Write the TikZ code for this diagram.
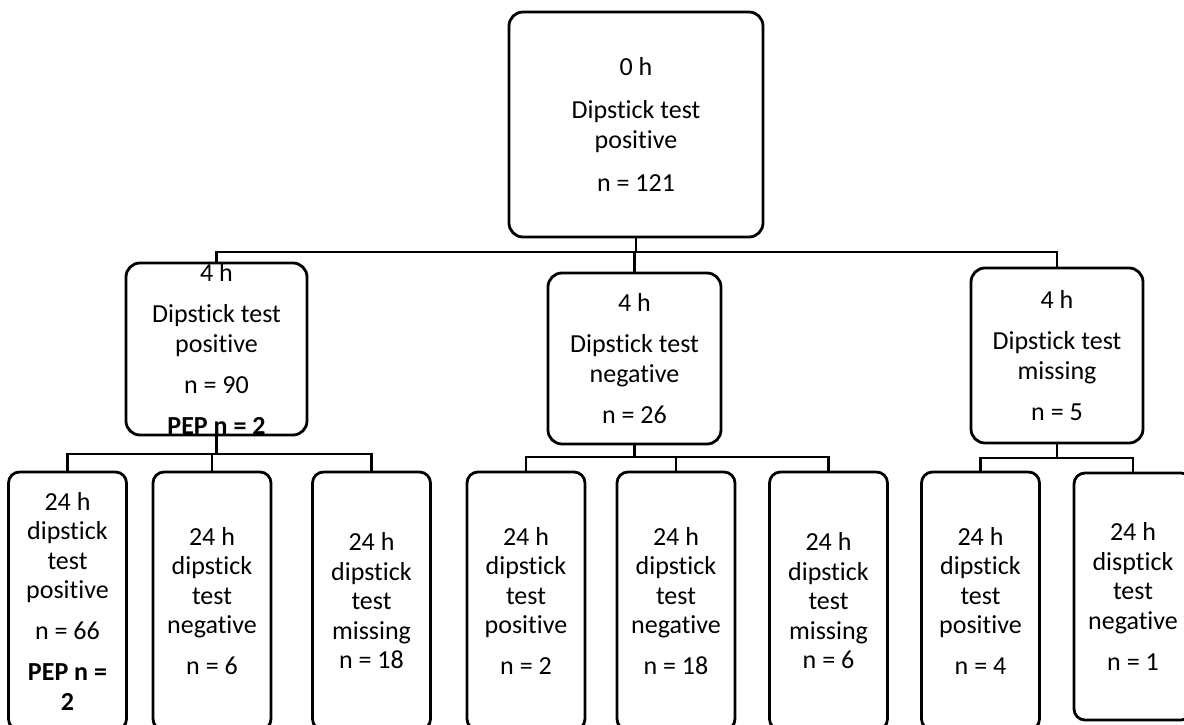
\documentclass[tikz,border=0pt]{standalone}
\usepackage{fontspec}
\setmainfont{Carlito}[Ligatures={NoCommon,NoRare,NoContextual}]

\begin{document}
\begin{tikzpicture}[x=1pt,y=-1pt]
		\tikzset{
			boxnode/.style={draw=black,line width=2.8pt,rounded corners=14pt,inner sep=0pt,align=center,font=\fontsize{26}{29.5}\selectfont},
		}
		\tikzset{
			smallnode/.style={boxnode,rounded corners=11pt,minimum width=118pt,minimum height=258pt},
		}
		\tikzset{
			link/.style={color=black,line width=2.2pt},
		}
		\newcommand{\nextgroup}{\\[11.5pt]}
		
		\useasboundingbox (0,0) rectangle (1184,725);
		
		\node[boxnode,minimum width=254pt,minimum height=225pt] (zeroh) at (636,124.5) {0 h\\[14pt]Dipstick test\\positive\\[14pt]n = 121};
		
		\node[boxnode,minimum width=181pt,minimum height=172pt] (posfour) at (216.5,349) {4 h\nextgroup Dipstick test\\positive\nextgroup n = 90\nextgroup\textbf{PEP n = 2}};
		\node[boxnode,minimum width=173pt,minimum height=171pt] (negfour) at (634.5,358.5) {4 h\nextgroup Dipstick test\\negative\nextgroup n = 26};
		\node[boxnode,minimum width=172pt,minimum height=175pt] (misfour) at (1057,355.5) {4 h\nextgroup Dipstick test\\missing\nextgroup n = 5};
		
		\node[smallnode] (pospos) at (67.5,601) {24 h\\dipstick\\test\\positive\nextgroup n = 66\nextgroup\textbf{PEP n =}\\\textbf{2}};
		\node[smallnode] (posneg) at (212,601) {24 h\\dipstick\\test\\negative\nextgroup n = 6};
		\node[smallnode] (posmis) at (371.5,601) {24 h\\dipstick\\test\\missing\\n = 18};
		
		\node[smallnode] (negpos) at (526,601) {24 h\\dipstick\\test\\positive\nextgroup n = 2};
		\node[smallnode] (negneg) at (676,601) {24 h\\dipstick\\test\\negative\nextgroup n = 18};
		\node[smallnode] (negmis) at (828.5,601) {24 h\\dipstick\\test\\missing\\n = 6};
		
		\node[smallnode] (mispos) at (980.5,601) {24 h\\dipstick\\test\\positive\nextgroup n = 4};
		\node[smallnode,minimum height=247pt] (misneg) at (1133,596.5) {24 h\\disptick\\test\\negative\nextgroup n = 1};
		
		\coordinate (busz) at (636,252);
		\coordinate (busp) at (216.5,454);
		\coordinate (busn) at (634.5,457);
		\coordinate (busm) at (1057,458);
		
		\draw[link] (zeroh.south) -- (busz);
		\draw[link] (busz) -| (posfour.north);
		\draw[link] (busz) -| (negfour.north);
		\draw[link] (busz) -| (misfour.north);
		
		\draw[link] (posfour.south) -- (busp);
		\draw[link] (busp) -| (pospos.north);
		\draw[link] (busp) -| (posneg.north);
		\draw[link] (busp) -| (posmis.north);
		
		\draw[link] (negfour.south) -- (busn);
		\draw[link] (busn) -| (negpos.north);
		\draw[link] (busn) -| (negneg.north);
		\draw[link] (busn) -| (negmis.north);
		
		\draw[link] (misfour.south) -- (busm);
		\draw[link] (busm) -| (mispos.north);
		\draw[link] (busm) -| (misneg.north);
	\end{tikzpicture}
\end{document}
